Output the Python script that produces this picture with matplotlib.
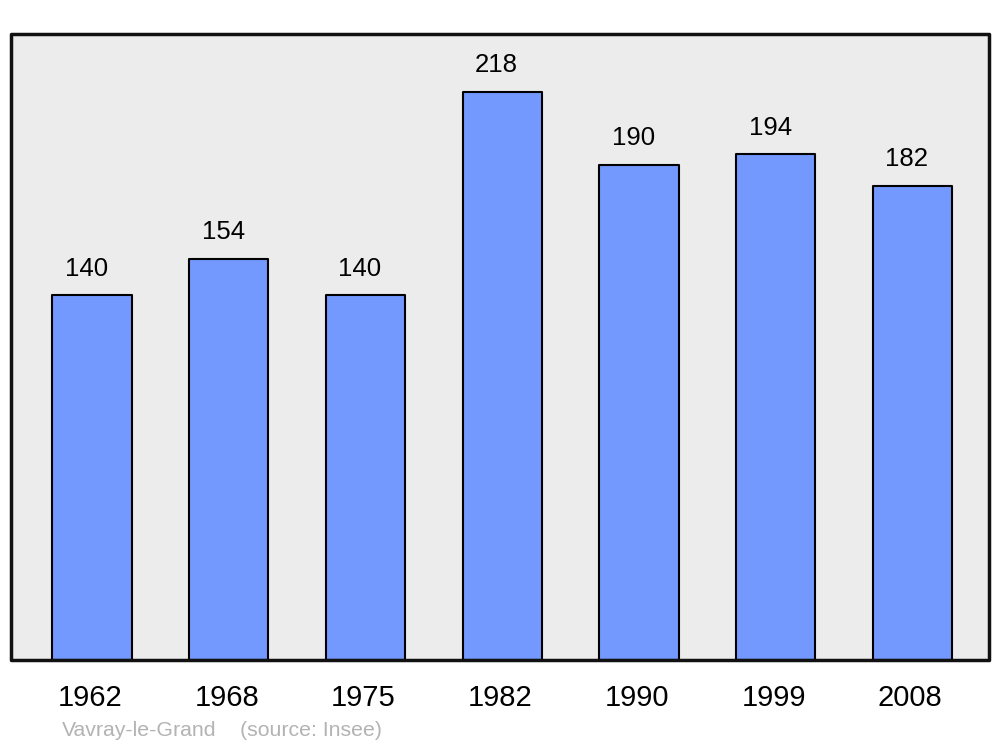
import matplotlib.pyplot as plt
import matplotlib.patches as mpatches
import numpy as np

plt.rcParams['font.family'] = ['Liberation Sans', 'DejaVu Sans']

years = ['1962', '1968', '1975', '1982', '1990', '1999', '2008']
population = [140, 154, 140, 218, 190, 194, 182]

bar_color = '#7399FF'
bg_color = '#ECECEC'

fig = plt.figure(figsize=(10, 7.47), dpi=100)
ax = fig.add_axes([0.011, 0.1165, 0.978, 0.838])
ax.set_facecolor(bg_color)

x_pos = np.arange(len(years))
bars = ax.bar(x_pos, population, width=0.58, color=bar_color,
              edgecolor='black', linewidth=1.5, zorder=2)
for b in bars:
    b.set_joinstyle('round')

for x, v in zip(x_pos, population):
    ax.annotate(str(v), (x, v), xytext=(-4, 19), textcoords='offset points',
                ha='center', va='center', fontsize=18.5)

ax.set_xlim(-0.592, 6.56)
ax.set_ylim(0, 240.2)
ax.set_yticks([])
ax.set_xticks(x_pos - 0.015)
ax.set_xticklabels(years, fontsize=21)
ax.tick_params(axis='x', length=0, pad=17)

for s in ax.spines.values():
    s.set_visible(False)
frame = mpatches.Rectangle((0, 0), 1, 1, transform=ax.transAxes, fill=False,
                           edgecolor='#111111', linewidth=2.5, joinstyle='round',
                           clip_on=False, zorder=3)
ax.add_patch(frame)

fig.text(0.062, 0.0225, 'Vavray-le-Grand', color='#B3B3B3', fontsize=15.3,
         ha='left', va='center')
fig.text(0.240, 0.0225, '(source: Insee)', color='#B3B3B3', fontsize=15.3,
         ha='left', va='center')

fig.savefig('out.png', dpi=100, facecolor='white')
